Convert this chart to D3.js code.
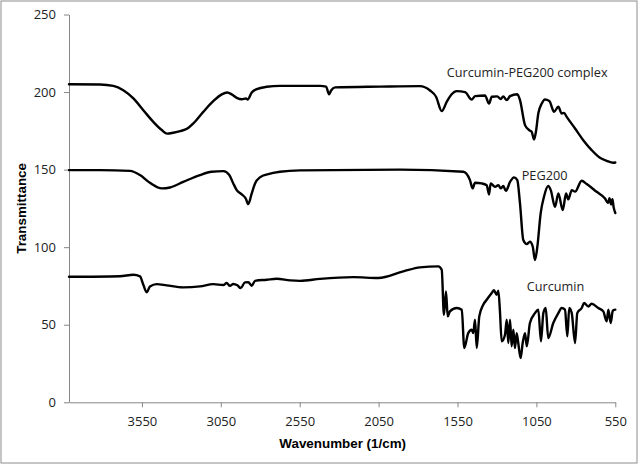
<!DOCTYPE html>
<html><head><meta charset="utf-8">
<script src="https://cdn.jsdelivr.net/npm/d3@7"></script>
<style>
html,body{margin:0;padding:0;background:#fff;}
svg{display:block;}
</style></head>
<body>
<svg id="chart" width="640" height="466"></svg>
<script>
// ---- data (wavenumber in 1/cm, transmittance) ----
const complexWn = [4012,3815,3731,3668,3604,3541,3478,3424,3390,3351,3308,3262,3224,3161,3098,3044,3009,2981,2949,2917,2890,2880,2854,2822,2759,2675,2421,2383,2364,2351,2326,2041,1788,1724,1686,1650,1617,1587,1555,1502,1460,1439,1376,1350,1333,1298,1276,1260,1238,1217,1171,1154,1122,1095,1080,1065,1053,1038,1016,996,968,938,911,890,875,858,805,753,700,647,605,563,550];
const complexT  = [205,204.9,204,201.2,195.9,188.3,180.8,175.5,173.2,173.8,174.8,176.5,179.8,187.2,194.1,198.5,199.7,198.5,196.3,195.4,195.9,195.2,199.7,201.9,203.4,204,204,203.5,198.6,201,203,203.5,203.8,201,197,187.7,194,198.6,200.6,200,195.2,197.4,197.8,192.6,197,197.2,195.5,197.2,194.8,197.4,198.6,194.8,178.7,175.4,174.4,169.4,174.4,186.2,192.6,195.2,194.3,187.3,190.5,186.2,186.6,184,176.5,169,162.6,157.6,155.7,154.4,154.6];

const pegWn = [4012,3815,3625,3562,3499,3424,3372,3288,3182,3108,3034,2996,2971,2949,2917,2892,2876,2854,2833,2802,2749,2675,2548,1914,1513,1471,1454,1439,1397,1365,1350,1340,1312,1291,1276,1260,1243,1217,1192,1171,1154,1133,1111,1091,1073,1059,1044,1023,1002,975,959,932,911,883,862,848,826,805,763,731,668,615,596,587,577,568,561,550];
const pegT  = [149.7,149.7,149.2,146.5,141.5,137.9,138.5,142.1,146.5,148.6,149,146.5,141.1,136.8,134,131.4,127.8,134.7,141.1,145,147.1,148.6,149.5,150,148.6,143.2,137.9,141.5,141.1,140,134,141.1,138.9,140,137.9,139.4,136.3,142.1,145,143.2,128.2,104.6,102,103.5,100.3,91.7,100.3,121.8,132.5,139.4,136.8,126,134.7,123.9,134.7,130.8,136.8,135.8,142.8,140.7,135.7,131.4,128.5,131.5,127.5,131,126,122];

const curWn = [4012,3689,3604,3562,3541,3520,3499,3456,3393,3288,3182,3098,3034,3013,2992,2971,2945,2924,2897,2876,2854,2833,2759,2696,2611,2548,2421,2210,2052,1893,1788,1672,1650,1636,1623,1612,1598,1555,1523,1507,1482,1460,1450,1439,1428,1412,1387,1365,1333,1319,1302,1291,1281,1270,1249,1238,1228,1217,1207,1196,1186,1175,1165,1150,1137,1122,1111,1091,1059,1038,1021,1006,991,975,943,911,890,869,854,842,826,805,791,763,748,721,700,658,626,605,594,579,566,550];
const curT  = [80.9,81.3,82.2,81.2,75.8,70.9,74.7,76.2,75.4,74.1,74.7,76.2,75.6,76.9,75.1,76.3,75.4,73.6,77.3,77.5,75.1,78.3,79,79.6,78.6,78.3,79.6,80.7,80.1,84.4,87,87.6,85.4,56.4,71.5,55.4,58.6,60.8,59.7,35,44.6,46.8,44.6,53.2,35,55.4,62.9,66.1,70.4,72.2,69.3,71.9,58.6,39.3,43.6,53.2,38.2,53.2,36.1,46.8,35,44.6,38.2,28.5,38.2,44.6,36.1,51.1,57.5,59.7,39.3,57.5,60.8,41.4,51.1,57.5,60.8,59.7,42.5,60.8,57.5,38.2,57.5,60.8,64,61.8,63.5,60.8,58.6,52.2,59.7,51.1,59,59.7];

const xTicks = [3550,3050,2550,2050,1550,1050,550];
const yTicks = [0,50,100,150,200,250];
const seriesNames = ["Curcumin-PEG200 complex","PEG200","Curcumin"];
// label anchors in data units (wavenumber, transmittance)
const labelWn = [1618,1143,1111];
const labelT  = [209.4,143.2,71.7];

// ---- drawing ----
(function(){
const svg = d3.select("#chart");
const mL = 69, mR = 615.3, mT = 14.5, mB = 402.3;

svg.append("rect").attr("x",1).attr("y",1).attr("width",636).attr("height",462)
  .attr("fill","#fff").attr("stroke","#8c8c8c").attr("stroke-width",1);

const x = d3.scaleLinear().domain([4012,550]).range([mL,mR]);
const y = d3.scaleLinear().domain([0,250]).range([mB,mT]);

const axisColor = "#868686";
const font = "'Open Sans', 'Liberation Sans', sans-serif";

const yAxis = svg.append("g").attr("transform",`translate(${mL},0)`)
  .call(d3.axisLeft(y).tickValues(yTicks).tickSize(5).tickPadding(8).tickSizeOuter(0));
const xAxis = svg.append("g").attr("transform",`translate(0,${mB})`)
  .call(d3.axisBottom(x).tickValues(xTicks).tickSize(5).tickPadding(9).tickSizeOuter(0).tickFormat(d3.format("d")));
[yAxis,xAxis].forEach(g=>{
  g.select(".domain").attr("stroke",axisColor).attr("stroke-width",1);
  g.selectAll(".tick line").attr("stroke",axisColor);
  g.selectAll(".tick text").attr("fill","#222").style("font-family",font).style("font-size","13px");
});

const line = d3.line().x(d=>x(d[0])).y(d=>y(d[1])).curve(d3.curveMonotoneX);
const series = [
  complexWn.map((w,i)=>[w,complexT[i]]),
  pegWn.map((w,i)=>[w,pegT[i]]),
  curWn.map((w,i)=>[w,curT[i]])
];
series.forEach(s=>{
  svg.append("path").datum(s).attr("d",line)
    .attr("fill","none").attr("stroke","#000").attr("stroke-width",2.4)
    .attr("stroke-linejoin","round").attr("stroke-linecap","round");
});

seriesNames.forEach((n,i)=>{
  svg.append("text").attr("x",x(labelWn[i])).attr("y",y(labelT[i]))
    .attr("fill","#222").style("font-family",font).style("font-size","12.7px").text(n);
});

svg.append("text").attr("x",342.7).attr("y",448).attr("text-anchor","middle")
  .style("font-family","'Liberation Sans', Arial, sans-serif").style("font-weight","bold").style("font-size","13.4px")
  .attr("fill","#000").text("Wavenumber (1/cm)");
svg.append("text").attr("transform",`translate(26,${(mT+mB)/2}) rotate(-90)`).attr("text-anchor","middle")
  .style("font-family","'Liberation Sans', Arial, sans-serif").style("font-weight","bold").style("font-size","13.4px")
  .attr("fill","#000").text("Transmittance");
})();
</script>
</body></html>
